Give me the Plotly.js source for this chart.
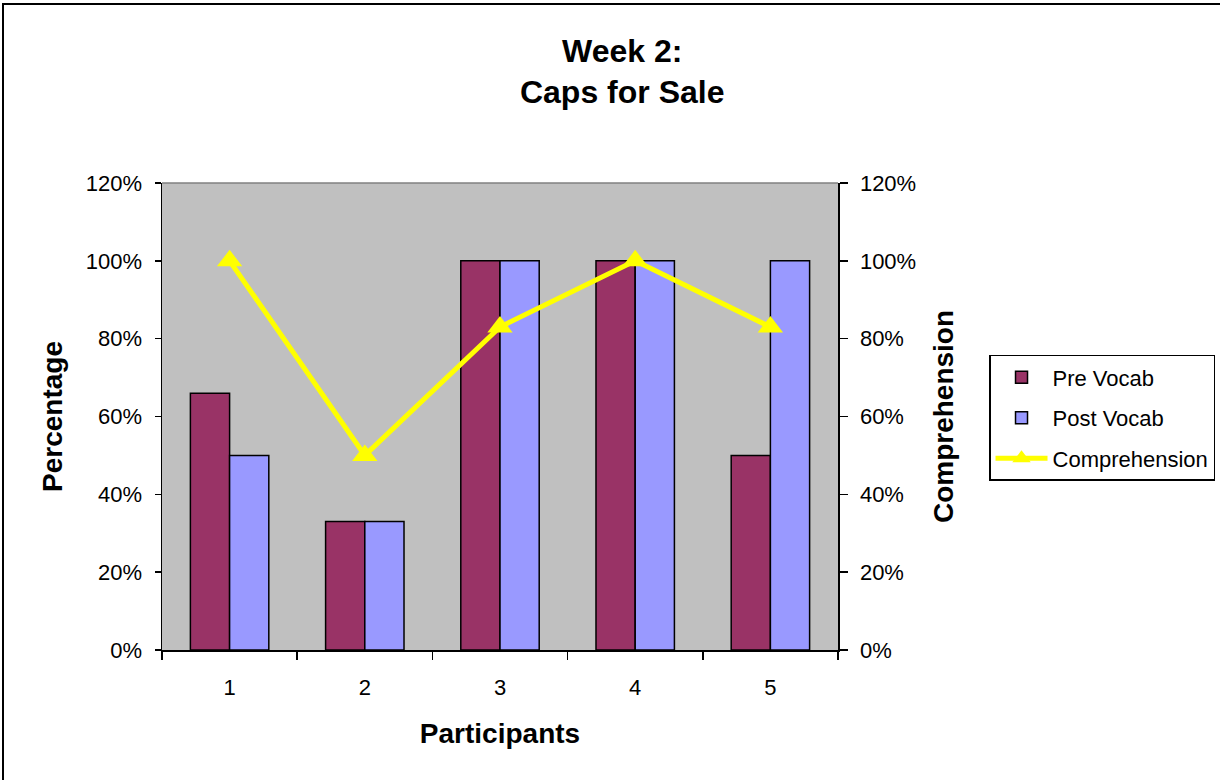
<!DOCTYPE html>
<html>
<head>
<meta charset="utf-8">
<script src="https://cdn.plot.ly/plotly-3.0.1.min.js"></script>
<style>
  html, body { margin: 0; padding: 0; background: #ffffff; overflow: hidden; }
  #chart { width: 1220px; height: 780px; position: relative; }
  #frame { position: absolute; left: 2px; top: 3px; width: 1400px; height: 1000px;
           border: 2px solid #000; pointer-events: none; }
</style>
</head>
<body>
<div id="chart"></div>
<div id="frame"></div>
<script>
// Week 2 results per participant
const participants = ['1', '2', '3', '4', '5'];
const preVocab = [0.66, 0.33, 1.00, 1.00, 0.50];
const postVocab = [0.50, 0.33, 1.00, 1.00, 1.00];
const comprehension = [1.00, 0.50, 0.83, 1.00, 0.83];
const tickValues = [0, 0.2, 0.4, 0.6, 0.8, 1.0, 1.2];

const FONT = '"Liberation Sans", Arial, sans-serif';

const traces = [
  {
    type: 'bar', name: 'Pre Vocab', x: participants, y: preVocab,
    legendgroup: 'a',
    marker: { color: '#993366', line: { color: '#000000', width: 1.5 } },
    hoverinfo: 'skip'
  },
  {
    type: 'bar', name: 'Post Vocab', x: participants, y: postVocab,
    legendgroup: 'b',
    marker: { color: '#9999FF', line: { color: '#000000', width: 1.5 } },
    hoverinfo: 'skip'
  },
  {
    type: 'scatter', mode: 'lines+markers', name: 'Comprehension',
    x: participants, y: comprehension, yaxis: 'y2',
    legendgroup: 'c',
    line: { color: '#FFFF00', width: 5 },
    marker: { symbol: 'triangle-up', size: 22, color: '#FFFF00' },
    hoverinfo: 'skip'
  }
];

const yCommon = {
  range: [0, 1.2],
  tickmode: 'array',
  tickvals: tickValues,
  tickformat: '.0%',
  showgrid: false,
  zeroline: false,
  showline: true,
  linecolor: '#000000',
  linewidth: 1.5,
  ticks: 'outside',
  ticklen: 6,
  tickwidth: 1.5,
  tickcolor: '#000000',
  ticklabelstandoff: 8,
  tickfont: { family: FONT, size: 22, color: '#000000' },
  fixedrange: true
};

// inner halves of the crossing tick marks
const yInner = {
  range: [0, 1.2],
  tickmode: 'array',
  tickvals: tickValues,
  showticklabels: false,
  showgrid: false,
  zeroline: false,
  showline: false,
  ticks: 'inside',
  ticklen: 5,
  tickwidth: 1.5,
  tickcolor: '#000000',
  fixedrange: true
};

const layout = {
  width: 1220,
  height: 780,
  margin: { l: 162, r: 382, t: 183, b: 130, pad: 0, autoexpand: false },
  paper_bgcolor: '#ffffff',
  plot_bgcolor: '#C0C0C0',
  font: { family: FONT, color: '#000000' },
  title: {
    text: '<b>Week 2:<br>Caps for Sale</b>',
    font: { family: FONT, size: 32, color: '#000000' },
    x: 0.51, xanchor: 'center', xref: 'container',
    y: 0.921, yanchor: 'top', yref: 'container'
  },
  barmode: 'group',
  bargap: 0.42,
  bargroupgap: 0,
  showlegend: true,
  legend: {
    x: 1.2234, xanchor: 'left',
    y: 0.632, yanchor: 'top',
    bgcolor: '#ffffff',
    bordercolor: '#000000',
    borderwidth: 1.5,
    font: { family: FONT, size: 22, color: '#000000' },
    traceorder: 'grouped',
    tracegroupgap: 9,
    itemwidth: 52
  },
  xaxis: {
    type: 'category',
    tickson: 'boundaries',
    showgrid: false,
    zeroline: false,
    showline: true,
    linecolor: '#000000',
    linewidth: 1.5,
    ticks: 'outside',
    ticklen: 8,
    tickwidth: 1.5,
    tickcolor: '#000000',
    ticklabelstandoff: 17,
    tickfont: { family: FONT, size: 22, color: '#000000' },
    title: { text: '<b>Participants</b>', font: { family: FONT, size: 28, color: '#000000' }, standoff: 24 },
    fixedrange: true
  },
  yaxis: Object.assign({}, yCommon, {
    side: 'left',
    title: { text: '<b>Percentage</b>', font: { family: FONT, size: 28, color: '#000000' }, standoff: 15 }
  }),
  yaxis2: Object.assign({}, yCommon, {
    side: 'right', overlaying: 'y', anchor: 'x',
    ticklen: 8,
    title: { text: '<b>Comprehension</b>', font: { family: FONT, size: 28, color: '#000000' }, standoff: 18 }
  }),
  yaxis3: Object.assign({}, yInner, { side: 'left', overlaying: 'y', anchor: 'x' }),
  yaxis4: Object.assign({}, yInner, { side: 'right', overlaying: 'y', anchor: 'x' }),
  shapes: [
    {
      type: 'line', xref: 'paper', yref: 'paper',
      x0: 0, x1: 1, y0: 1, y1: 1,
      line: { color: '#808080', width: 1.5 }
    }
  ]
};

Plotly.newPlot('chart', traces, layout, { displayModeBar: false, staticPlot: true });
</script>
</body>
</html>
